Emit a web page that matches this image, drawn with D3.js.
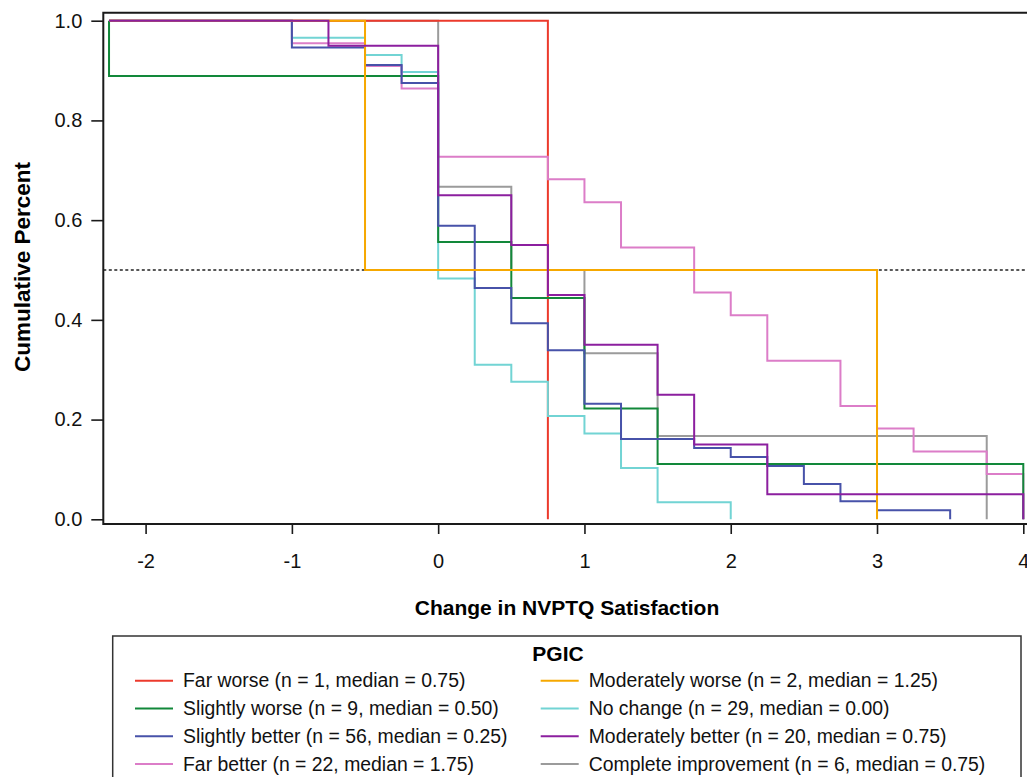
<!DOCTYPE html>
<html>
<head>
<meta charset="utf-8">
<script src="https://cdn.jsdelivr.net/npm/d3@7"></script>
<style>
  body { margin: 0; background: #fff; }
  svg { display: block; font-family: "Liberation Sans", Arial, sans-serif; }
</style>
</head>
<body>
<div id="chart"></div>
<script>
// ---------------- DATA ----------------
const groups = ["Far worse", "Moderately worse", "Slightly worse", "No change",
                "Slightly better", "Moderately better", "Far better", "Complete improvement"];
const groupN = [1, 2, 9, 29, 56, 20, 22, 6];
const groupMedian = ["0.75", "1.25", "0.50", "0.00", "0.25", "0.75", "1.75", "0.75"];
const groupColors = ["#ec3a2c", "#f6a800", "#12883a", "#72d4d4", "#4752a9", "#8c1f9f", "#dc7dc8", "#9b9b9b"];

// step positions (change value) and the cumulative percent right after each step
const farWorseX = [0.75];
const farWorseY = [0];
const modWorseX = [-0.5, 3];
const modWorseY = [0.5, 0];
const slWorseX = [-2.25, 0, 0.5, 1, 1.5, 4];
const slWorseY = [0.889, 0.556, 0.444, 0.222, 0.111, 0];
const noChangeX = [-1, -0.5, -0.25, 0, 0.25, 0.5, 0.75, 1, 1.25, 1.5, 2];
const noChangeY = [0.966, 0.931, 0.897, 0.483, 0.310, 0.276, 0.207, 0.172, 0.103, 0.034, 0];
const slBetterX = [-1, -0.5, -0.25, 0, 0.25, 0.5, 0.75, 1, 1.25, 1.75, 2, 2.25, 2.5, 2.75, 3, 3.5];
const slBetterY = [0.946, 0.911, 0.875, 0.589, 0.464, 0.393, 0.339, 0.232, 0.161, 0.143, 0.125, 0.107, 0.071, 0.036, 0.018, 0];
const modBetterX = [-0.75, 0, 0.5, 0.75, 1, 1.5, 1.75, 2.25, 4];
const modBetterY = [0.95, 0.65, 0.55, 0.45, 0.35, 0.25, 0.15, 0.05, 0];
const farBetterX = [-1, -0.5, -0.25, 0, 0.75, 1, 1.25, 1.75, 2, 2.25, 2.75, 3, 3.25, 3.75, 4];
const farBetterY = [0.955, 0.909, 0.864, 0.727, 0.682, 0.636, 0.545, 0.455, 0.409, 0.318, 0.227, 0.182, 0.136, 0.091, 0];
const completeX = [0, 0.5, 1, 1.5, 3.75];
const completeY = [0.667, 0.5, 0.333, 0.167, 0];

const startX = -2.25;
const xTicks = [-2, -1, 0, 1, 2, 3, 4];
const yTicks = [0, 0.2, 0.4, 0.6, 0.8, 1.0];
const refLine = 0.5;

const stepX = [farWorseX, modWorseX, slWorseX, noChangeX, slBetterX, modBetterX, farBetterX, completeX];
const stepY = [farWorseY, modWorseY, slWorseY, noChangeY, slBetterY, modBetterY, farBetterY, completeY];

// ---------------- LAYOUT ----------------
const W = 1027, H = 777;
const box = { left: 103.3, top: 12.7, bottom: 524, right: 1060 };

const svg = d3.select("#chart").append("svg")
    .attr("width", W).attr("height", H);

const xScale = d3.scaleLinear().domain([-2, 4]).range([145.6, 1023.3]);
const yScale = d3.scaleLinear().domain([0, 1]).range([519.3, 20.7]);

// reference line at 50%
svg.append("line")
    .attr("x1", box.left).attr("x2", box.right)
    .attr("y1", yScale(refLine)).attr("y2", yScale(refLine))
    .style("stroke", "#222")
    .style("stroke-width", 1.7)
    .style("stroke-dasharray", "3,2.5");

// ---------------- LINES ----------------
const line = d3.line()
    .curve(d3.curveStepAfter)
    .x(d => xScale(d[0]))
    .y(d => yScale(d[1]));

const series = groups.map((g, i) => {
    const pts = [[startX, 1]];
    stepX[i].forEach((x, j) => pts.push([x, stepY[i][j]]));
    return { id: g, color: groupColors[i], values: pts };
});

// drawing order so overlaps look like the original
const drawOrder = [7, 0, 3, 6, 2, 4, 1, 5];
svg.append("g").selectAll("path")
    .data(drawOrder.map(i => series[i]))
    .enter().append("path")
    .attr("d", d => line(d.values))
    .style("fill", "none")
    .style("stroke", d => d.color)
    .style("stroke-width", 2);

// ---------------- AXES ----------------
const frame = svg.append("g").style("stroke", "#1a1a1a").style("stroke-width", 2).style("fill", "none");
frame.append("path")
    .attr("d", "M" + box.right + "," + box.top + "H" + box.left + "V" + box.bottom + "H" + box.right);

const yaxis = d3.axisLeft(yScale).tickValues(yTicks).tickFormat(d3.format(".1f")).tickSize(12).tickPadding(9);
const gy = svg.append("g").attr("transform", "translate(" + box.left + ",0)").call(yaxis);
gy.select(".domain").remove();

// plain hyphen for negatives, like the original
const xaxis = d3.axisBottom(xScale).tickValues(xTicks).tickFormat(d => String(d)).tickSize(10).tickPadding(20);
const gx = svg.append("g").attr("transform", "translate(0," + box.bottom + ")").call(xaxis);
gx.select(".domain").remove();

[gx, gy].forEach(g => {
    g.selectAll("line").style("stroke", "#1a1a1a").style("stroke-width", 1.6);
    g.selectAll("text").style("font-size", "20px").style("fill", "#111")
        .style("font-family", "'Liberation Sans', Arial, sans-serif");
});

svg.append("text")
    .attr("x", 567).attr("y", 615)
    .attr("text-anchor", "middle")
    .style("font-size", "21px").style("font-weight", "bold")
    .text("Change in NVPTQ Satisfaction");

svg.append("text")
    .attr("transform", "translate(29.5,267) rotate(-90)")
    .attr("text-anchor", "middle")
    .style("font-size", "22.5px").style("font-weight", "bold")
    .text("Cumulative Percent");

// ---------------- LEGEND ----------------
const legend = svg.append("g");
legend.append("rect")
    .attr("x", 112.7).attr("y", 636)
    .attr("width", 1021 - 112.7).attr("height", 160)
    .style("fill", "none").style("stroke", "#333").style("stroke-width", 1.5);

legend.append("text")
    .attr("x", 558).attr("y", 660.5)
    .attr("text-anchor", "middle")
    .style("font-size", "21px").style("font-weight", "bold")
    .text("PGIC");

const colX = [135, 540.7];
const rowY = [680.7, 708.5, 736.3, 764.1];
const items = legend.selectAll("g.item")
    .data(series)
    .enter().append("g")
    .attr("class", "item")
    .attr("transform", (d, i) => "translate(" + colX[i % 2] + "," + rowY[Math.floor(i / 2)] + ")");

items.append("line")
    .attr("x1", 0).attr("x2", 38)
    .style("stroke", d => d.color).style("stroke-width", 2);

items.append("text")
    .attr("x", 48).attr("dy", "0.35em")
    .style("font-size", "19.4px").style("fill", "#111")
    .text((d, i) => d.id + " (n = " + groupN[i] + ", median = " + groupMedian[i] + ")");
</script>
</body>
</html>
